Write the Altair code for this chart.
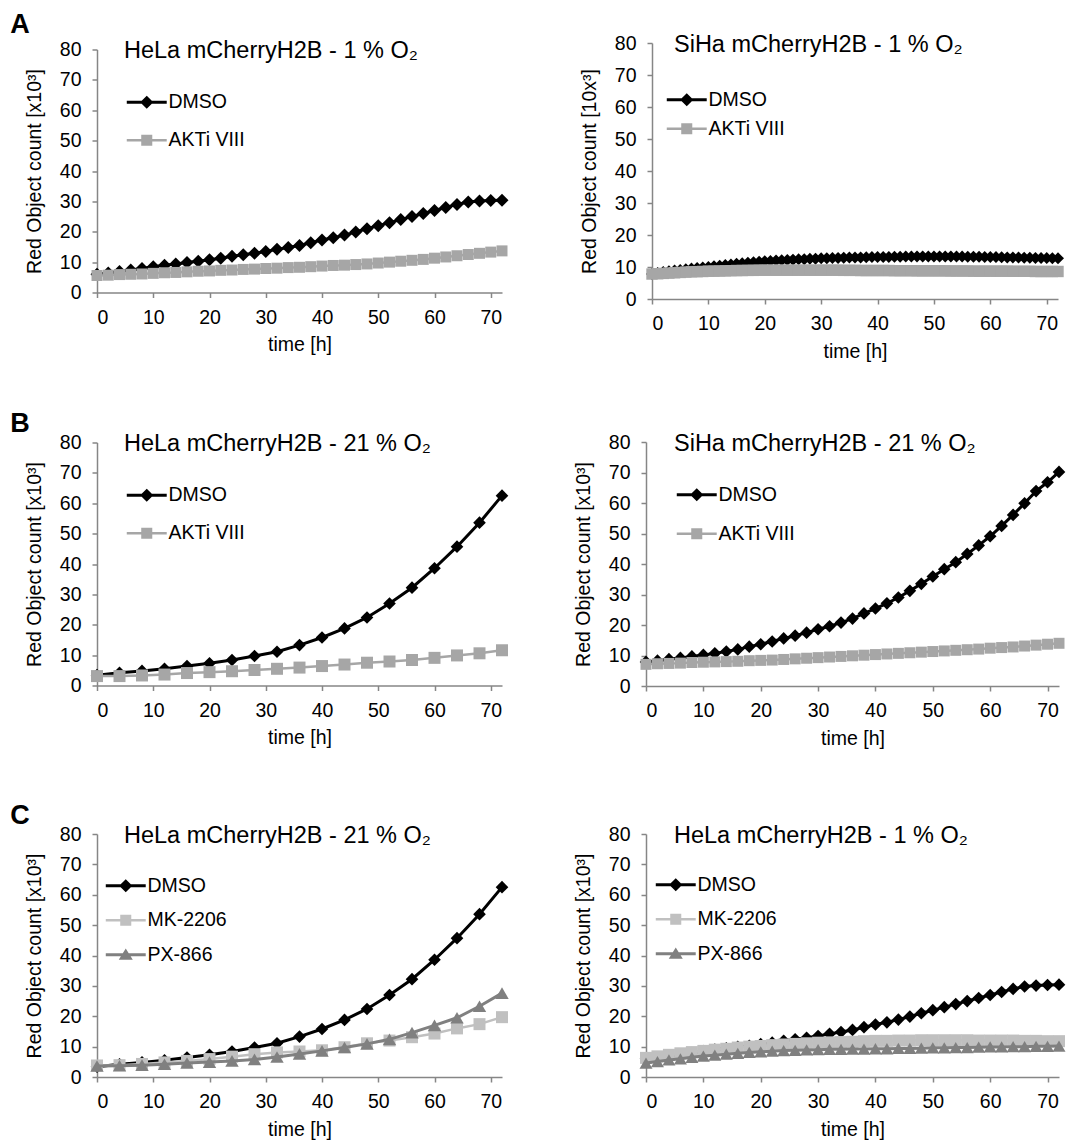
import altair as alt
import pandas as pd

FONT = "Liberation Sans"

# ---------------- time grids ----------------
T4 = [0, 4, 8, 12, 16, 20, 24, 28, 32, 36, 40, 44, 48, 52, 56, 60, 64, 68, 72]
T2 = [0, 2, 4, 6, 8, 10, 12, 14, 16, 18, 20, 22, 24, 26, 28, 30, 32, 34, 36,
      38, 40, 42, 44, 46, 48, 50, 52, 54, 56, 58, 60, 62, 64, 66, 68, 70, 72]
T1 = [0, 1, 2, 3, 4, 5, 6, 7, 8, 9, 10, 11, 12, 13, 14, 15, 16, 17, 18, 19, 20,
      21, 22, 23, 24, 25, 26, 27, 28, 29, 30, 31, 32, 33, 34, 35, 36, 37, 38, 39, 40,
      41, 42, 43, 44, 45, 46, 47, 48, 49, 50, 51, 52, 53, 54, 55, 56, 57, 58, 59, 60,
      61, 62, 63, 64, 65, 66, 67, 68, 69, 70, 71, 72]

# ---------------- values (x10^3) ----------------
# HeLa 1 % O2 (every 2 h)
hela1_dmso = [6.0, 6.4, 6.9, 7.4, 7.9, 8.5, 9.0, 9.4, 9.9, 10.3, 10.8, 11.3, 11.9,
              12.4, 12.9, 13.5, 14.2, 14.8, 15.5, 16.4, 17.3, 18.0, 18.9, 19.9,
              21.0, 22.0, 23.0, 24.0, 25.0, 26.0, 27.0, 28.0, 29.0, 29.8, 30.1,
              30.3, 30.4]
hela1_akti = [5.6, 5.7, 5.9, 6.0, 6.1, 6.3, 6.5, 6.6, 6.8, 7.0, 7.1, 7.3, 7.4,
              7.6, 7.7, 7.9, 8.0, 8.2, 8.3, 8.5, 8.7, 8.9, 9.0, 9.2, 9.4, 9.7,
              10.0, 10.3, 10.6, 10.9, 11.3, 11.7, 12.1, 12.5, 12.9, 13.3, 13.7]
hela1_mk = [6.3, 6.8, 7.3, 7.8, 8.2, 8.6, 9.0, 9.3, 9.7, 10.0, 10.2, 10.5, 10.7,
            10.9, 11.1, 11.3, 11.4, 11.5, 11.6, 11.8, 11.9, 11.9, 12.0, 12.0,
            12.1, 12.1, 12.1, 12.1, 12.1, 12.0, 12.0, 12.0, 12.0, 11.9, 11.9,
            11.8, 11.8]
hela1_px = [4.6, 5.1, 5.6, 6.0, 6.5, 6.9, 7.2, 7.5, 7.8, 8.1, 8.3, 8.5, 8.7, 8.8,
            8.9, 9.0, 9.1, 9.1, 9.2, 9.2, 9.3, 9.3, 9.4, 9.4, 9.5, 9.6, 9.6, 9.7,
            9.7, 9.8, 9.9, 9.9, 10.0, 10.0, 10.1, 10.1, 10.2]

# SiHa 1 % O2 (every 1 h)
siha1_dmso = [7.8, 8.1, 8.4, 8.7, 8.9, 9.1, 9.3, 9.5, 9.7, 9.85, 10.0,
              10.2, 10.4, 10.6, 10.8, 11.0, 11.2, 11.35, 11.5, 11.65, 11.8,
              11.9, 12.0, 12.1, 12.2, 12.3, 12.4, 12.45, 12.55, 12.6, 12.7,
              12.75, 12.8, 12.85, 12.9, 12.95, 13.0, 13.0, 13.05, 13.1, 13.1,
              13.15, 13.15, 13.2, 13.2, 13.25, 13.25, 13.3, 13.3, 13.3, 13.3,
              13.3, 13.3, 13.3, 13.25, 13.25, 13.2, 13.2, 13.2, 13.15, 13.1,
              13.1, 13.05, 13.0, 13.0, 12.95, 12.9, 12.9, 12.85, 12.8, 12.8, 12.75, 12.7]
siha1_akti = [7.8, 7.9, 8.0, 8.1, 8.2, 8.3, 8.4, 8.5, 8.55, 8.6, 8.7,
              8.7, 8.75, 8.8, 8.85, 8.9, 8.9, 8.95, 8.95, 9.0, 9.0,
              9.0, 9.0, 9.0, 9.0, 9.0, 9.0, 9.0, 9.0, 9.0, 9.0,
              9.0, 9.0, 9.0, 8.95, 8.95, 8.95, 8.9, 8.9, 8.9, 8.9,
              8.9, 8.9, 8.85, 8.85, 8.85, 8.85, 8.8, 8.8, 8.8, 8.8,
              8.8, 8.8, 8.75, 8.75, 8.75, 8.75, 8.7, 8.7, 8.7, 8.7,
              8.7, 8.7, 8.7, 8.65, 8.65, 8.65, 8.65, 8.6, 8.6, 8.6, 8.6, 8.6]

# HeLa 21 % O2 (every 4 h)
hela21_dmso = [3.4, 4.2, 4.8, 5.5, 6.4, 7.3, 8.4, 9.7, 11.1, 13.3, 15.8, 18.8,
               22.4, 27.0, 32.2, 38.6, 45.7, 53.6, 62.5]
hela21_akti = [3.1, 3.1, 3.3, 3.6, 4.1, 4.4, 4.7, 5.1, 5.5, 5.9, 6.4, 6.9, 7.5,
               7.9, 8.4, 9.1, 9.9, 10.6, 11.6]
hela21_mk = [3.8, 3.9, 4.3, 4.8, 5.3, 5.9, 6.7, 7.5, 8.1, 8.4, 8.8, 9.8, 11.1,
             12.0, 13.1, 14.3, 16.0, 17.4, 19.7]
hela21_px = [3.6, 3.7, 3.9, 4.2, 4.6, 4.9, 5.3, 5.8, 6.6, 7.6, 8.6, 9.7, 10.9,
             12.4, 14.6, 17.0, 19.5, 23.3, 27.6]

# SiHa 21 % O2 (every 2 h)
siha21_dmso = [7.9, 8.3, 8.8, 9.2, 9.7, 10.2, 10.7, 11.3, 12.0, 12.9, 13.7, 14.6,
               15.6, 16.5, 17.5, 18.6, 19.6, 20.8, 22.1, 23.8, 25.4, 27.1, 29.0,
               31.2, 33.5, 35.9, 38.3, 40.6, 43.3, 46.1, 49.1, 52.5, 56.1, 59.9,
               63.9, 66.8, 70.2]
siha21_akti = [7.1, 7.3, 7.4, 7.5, 7.7, 7.8, 7.9, 8.0, 8.1, 8.3, 8.4, 8.5, 8.7,
               8.9, 9.1, 9.3, 9.5, 9.7, 9.9, 10.1, 10.3, 10.5, 10.7, 10.9, 11.1,
               11.3, 11.5, 11.7, 11.9, 12.1, 12.4, 12.6, 12.8, 13.1, 13.4, 13.7, 14.0]

# ---------------- labels ----------------
X_TICKS = [0, 10, 20, 30, 40, 50, 60, 70]
Y_TICKS = [0, 10, 20, 30, 40, 50, 60, 70, 80]
X_TITLE = "time [h]"
Y_TITLE = "Red Object count [x10\u00b3]"
Y_TITLE_SIHA1 = "Red Object count [10x\u00b3]"

# ---------------- styles ----------------
STYLE = {
    "DMSO":     {"color": "#000000", "shape": "diamond", "lw": 3.0,
                 "path": "M-3.33,-0.25H3.33V0.25H-3.33Z M0,-1.1L1.1,0L0,1.1L-1.1,0Z"},
    "AKTi VIII": {"color": "#a6a6a6", "shape": "square", "lw": 2.5,
                  "path": "M-3.33,-0.21H3.33V0.21H-3.33Z M-0.92,-0.92H0.92V0.92H-0.92Z"},
    "MK-2206":  {"color": "#c0c0c0", "shape": "square", "lw": 2.5,
                 "path": "M-3.33,-0.21H3.33V0.21H-3.33Z M-0.92,-0.92H0.92V0.92H-0.92Z"},
    "PX-866":   {"color": "#808080", "shape": "triangle-up", "lw": 3.0,
                 "path": "M-3.33,-0.25H3.33V0.25H-3.33Z M0,-1.05L1.17,0.85L-1.17,0.85Z"},
}


def panel(title, series, ytitle, width, height, title_dx, leg_cx, leg_first, leg_gap):
    X = alt.X("t:Q", scale=alt.Scale(domain=[0, 72], nice=False, zero=False),
              axis=alt.Axis(values=X_TICKS, title=X_TITLE, labelPadding=10.5,
                            titlePadding=9))
    Y = alt.Y("v:Q", scale=alt.Scale(domain=[0, 80], nice=False),
              axis=alt.Axis(values=Y_TICKS, title=ytitle, labelPadding=11,
                            titlePadding=15))
    layers = []
    for name, t, v, size in series:
        st = STYLE[name]
        df = pd.DataFrame({"t": t, "v": v, "series": name})
        base = alt.Chart(df)
        layers.append(base.mark_line(color=st["color"], strokeWidth=st["lw"]).encode(x=X, y=Y))
        layers.append(base.mark_point(filled=True, shape=st["shape"], size=size,
                                      color=st["color"], opacity=1, strokeWidth=0)
                      .encode(x=X, y=Y))
    names = [s[0] for s in series]
    leg_kw = dict(orient="none", legendX=leg_cx - 10, legendY=leg_first - 9, title=None,
                  labelFont=FONT, labelFontSize=19.5, labelColor="black",
                  symbolSize=144, symbolStrokeWidth=0, symbolOpacity=1,
                  rowPadding=leg_gap - 21, labelOffset=12, padding=0, labelLimit=300)
    df0 = pd.DataFrame({"t": series[0][1], "v": series[0][2], "series": names[0]})
    legend_layer = (alt.Chart(df0).transform_filter("datum.t < 0")
                    .mark_point(filled=True, opacity=1)
                    .encode(x=X, y=Y,
                            color=alt.Color("series:N",
                                            scale=alt.Scale(domain=names,
                                                            range=[STYLE[n]["color"] for n in names]),
                                            legend=alt.Legend(**leg_kw)),
                            shape=alt.Shape("series:N",
                                            scale=alt.Scale(domain=names,
                                                            range=[STYLE[n]["path"] for n in names]),
                                            legend=alt.Legend(**leg_kw))))
    layers.append(legend_layer)
    return alt.layer(*layers).properties(
        width=width, height=height,
        title=alt.TitleParams(text=title, anchor="start", frame="group", dx=title_dx,
                              offset=-10, dy=25, baseline="middle", fontSize=23.5, font=FONT,
                              fontWeight="normal", color="black"))


def letter(txt):
    return alt.TitleParams(text=txt, anchor="start", frame="bounds", dx=-14, offset=-6,
                           fontSize=27, font=FONT, fontWeight="bold", color="black")


pA1 = panel("HeLa mCherryH2B - 1 % O\u2082",
            [("DMSO", T2, hela1_dmso, 169), ("AKTi VIII", T2, hela1_akti, 121)],
            Y_TITLE, 405, 243, 27, 50, 52, 38)
pA2 = panel("SiHa mCherryH2B - 1 % O\u2082",
            [("DMSO", T1, siha1_dmso, 144), ("AKTi VIII", T1, siha1_akti, 130)],
            Y_TITLE_SIHA1, 406, 256, 22, 35, 56, 29)
pB1 = panel("HeLa mCherryH2B - 21 % O\u2082",
            [("DMSO", T4, hela21_dmso, 160), ("AKTi VIII", T4, hela21_akti, 144)],
            Y_TITLE, 405, 243, 27, 50, 52, 38)
pB2 = panel("SiHa mCherryH2B - 21 % O\u2082",
            [("DMSO", T2, siha21_dmso, 160), ("AKTi VIII", T2, siha21_akti, 121)],
            Y_TITLE, 413, 244, 28, 51, 52, 39)
pC1 = panel("HeLa mCherryH2B - 21 % O\u2082",
            [("DMSO", T4, hela21_dmso, 160), ("MK-2206", T4, hela21_mk, 144),
             ("PX-866", T4, hela21_px, 180)],
            Y_TITLE, 405, 243, 27, 29, 51, 34.5)
pC2 = panel("HeLa mCherryH2B - 1 % O\u2082",
            [("DMSO", T2, hela1_dmso, 160), ("MK-2206", T2, hela1_mk, 144),
             ("PX-866", T2, hela1_px, 169)],
            Y_TITLE, 413, 243, 28, 30, 50, 34.5)


def row(a, b, sp, txt):
    return (alt.hconcat(a, b, spacing=sp, bounds="flush", center=True, title=letter(txt))
            .resolve_scale(color="independent", shape="independent")
            .resolve_legend(color="independent", shape="independent"))


rowA = row(pA1, pA2, 150, "A")
rowB = row(pB1, pB2, 144, "B")
rowC = row(pC1, pC2, 144, "C")

rowsBC = (alt.vconcat(rowB, rowC, spacing=53)
          .resolve_scale(color="independent", shape="independent")
          .resolve_legend(color="independent", shape="independent"))

chart = (alt.vconcat(rowA, rowsBC, spacing=48)
         .resolve_scale(color="independent", shape="independent")
         .resolve_legend(color="independent", shape="independent")
         .properties(padding={"left": 10, "top": 10, "right": 0, "bottom": 5},
                     background="white")
         .configure_view(strokeWidth=0)
         .configure_axis(domainColor="#868686", tickColor="#868686", domainWidth=1.5,
                         tickWidth=1.5, tickSize=5, grid=False,
                         labelFont=FONT, labelFontSize=19.5, labelColor="black",
                         titleFont=FONT, titleFontSize=19.5, titleFontWeight="normal",
                         titleColor="black")
         .configure_legend(labelFont=FONT))

chart.save("out.html", embed_options={"renderer": "svg", "actions": False})
